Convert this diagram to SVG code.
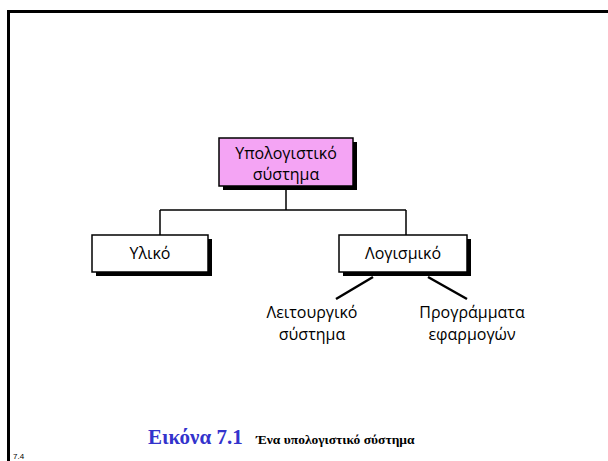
<svg xmlns="http://www.w3.org/2000/svg" width="608" height="461" viewBox="0 0 608 461">
<style>
.box{stroke:#000;stroke-width:1.5}
.shadow{fill:#000}
.lbl{font-family:"Open Sans","Liberation Sans",sans-serif;font-size:16px;fill:#000;text-anchor:middle}
.conn{stroke:#000;stroke-width:1.5;fill:none}
.diag{stroke:#000;stroke-width:2.5;fill:none}
</style>
<rect width="608" height="461" fill="#fff"/>
<path d="M8.5 461 V11.5 H608" fill="none" stroke="#000" stroke-width="3"/>
<g id="connectors">
<path class="conn" d="M286 186 V210 M160 210 H406 M160 210 V235 M406 210 V235"/>
<path class="diag" d="M373 277 L336 299 M428 277 L467 299"/>
</g>
<g id="root">
<rect class="shadow" x="223" y="142" width="134" height="48"/>
<rect class="box" x="219" y="138" width="134" height="48" fill="#f4a4f4"/>
<text class="lbl" x="286" y="159">Υπολογιστικό</text>
<text class="lbl" x="286" y="180">σύστημα</text>
</g>
<g id="hardware">
<rect class="shadow" x="96" y="239" width="116" height="37"/>
<rect class="box" x="92" y="235" width="116" height="37" fill="#fff"/>
<text class="lbl" x="150" y="259">Υλικό</text>
</g>
<g id="software">
<rect class="shadow" x="343" y="239" width="128" height="37"/>
<rect class="box" x="339" y="235" width="128" height="37" fill="#fff"/>
<text class="lbl" x="403" y="259">Λογισμικό</text>
</g>
<g id="os">
<text class="lbl" x="312" y="318">Λειτουργικό</text>
<text class="lbl" x="312" y="340">σύστημα</text>
</g>
<g id="apps">
<text class="lbl" x="472" y="318">Προγράμματα</text>
<text class="lbl" x="472" y="340">εφαρμογών</text>
</g>
<text x="148" y="444" font-family="Liberation Serif,serif" font-weight="bold" font-size="21" fill="#3333cc">Εικόνα 7.1</text>
<text x="256" y="444" font-family="Liberation Serif,serif" font-weight="bold" font-size="13.5" fill="#000">Ένα υπολογιστικό σύστημα</text>
<text x="13" y="459" font-family="Liberation Sans,sans-serif" font-size="8" fill="#000">7.4</text>
</svg>
